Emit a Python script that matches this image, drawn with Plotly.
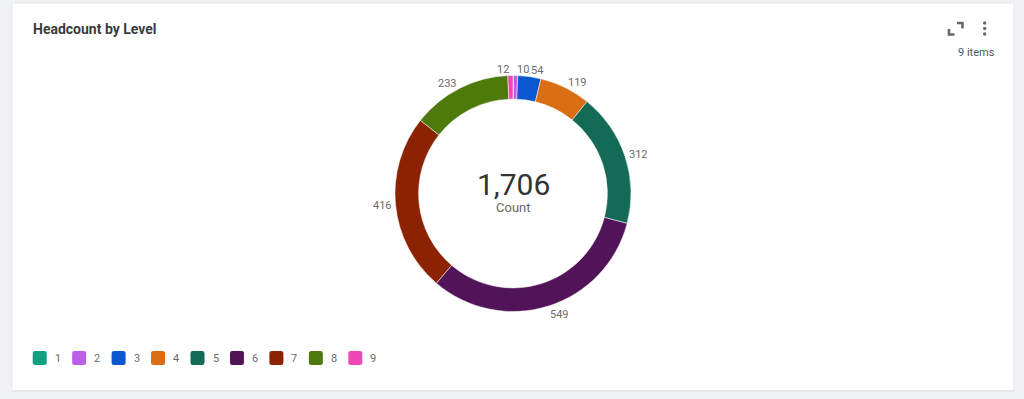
import math
import plotly.graph_objects as go

levels = ["1", "2", "3", "4", "5", "6", "7", "8", "9"]
counts = [1, 10, 54, 119, 312, 549, 416, 233, 12]
colors = ["#12a082", "#bb5fe9", "#0b57d0", "#d96e15", "#136a55",
          "#521458", "#8b2202", "#4e7a0c", "#ee48b5"]
title = "Headcount by Level"
center_label = "Count"

W, H = 1024, 399
total = sum(counts)

# donut geometry (pixels)
CX, CY, R = 513, 193.5, 118

def px(x):
    return x / W

def py(y):
    return 1 - y / H

def P(x, y):
    return "{:.5f},{:.5f}".format(px(x), py(y))

fig = go.Figure()
fig.add_trace(go.Pie(
    labels=levels, values=counts, sort=False, direction="clockwise", rotation=0,
    hole=0.8, marker=dict(colors=colors, line=dict(color="white", width=0.5)),
    textinfo="none", showlegend=False, hoverinfo="label+value",
    domain=dict(x=[px(CX - R), px(CX + R)], y=[py(CY + R), py(CY - R)]),
))

shapes = []
annotations = []

# card
shapes.append(dict(type="rect", xref="paper", yref="paper", x0=px(12), x1=px(1014),
                   y0=py(391.5), y1=py(3), fillcolor="#dcdde0",
                   line=dict(width=0), layer="below"))
shapes.append(dict(type="rect", xref="paper", yref="paper", x0=px(12), x1=px(1014),
                   y0=py(390.5), y1=py(3), fillcolor="white",
                   line=dict(color="#e6e7e9", width=1), layer="below"))

annotations.append(dict(text="<b>" + title + "</b>", x=px(30.5), y=py(29), xref="paper", yref="paper",
                        xanchor="left", yanchor="middle", showarrow=False,
                        font=dict(size=14, color="#3c3c3c", family="Roboto")))
annotations.append(dict(text="{:,}".format(total), x=px(513), y=py(185), xref="paper", yref="paper",
                        xanchor="center", yanchor="middle", showarrow=False,
                        font=dict(size=30, color="#333333", family="Roboto")))
annotations.append(dict(text=center_label, x=px(513), y=py(207.5), xref="paper", yref="paper",
                        xanchor="center", yanchor="middle", showarrow=False,
                        font=dict(size=13, color="#666666", family="Roboto")))
annotations.append(dict(text="{} items".format(len(levels)), x=px(976.5), y=py(52), xref="paper", yref="paper",
                        xanchor="center", yanchor="middle", showarrow=False,
                        font=dict(size=11, color="#555555", family="Roboto")))

# slice value labels, placed from the data (mid-angle of each slice)
cum = 0
for v in counts:
    mid = (cum + v / 2) / total * 2 * math.pi
    cum += v
    if v < 5:
        continue
    s, c = math.sin(mid), math.cos(mid)
    r = R + 3
    x = CX + s * r
    y = CY - c * r - c * (3 if c > 0 else 6)
    annotations.append(dict(text=str(v), x=px(x), y=py(y), xref="paper", yref="paper",
                            xanchor="left" if s >= 0 else "right", yanchor="middle",
                            showarrow=False, borderpad=0,
                            font=dict(size=11, color="#6b6b6b", family="Roboto")))

# expand icon
shapes.append(dict(type="path", xref="paper", yref="paper",
                   path="M" + P(949, 29) + " L" + P(949, 34.5) + " L" + P(954.5, 34.5),
                   line=dict(color="#666666", width=2.5)))
shapes.append(dict(type="path", xref="paper", yref="paper",
                   path="M" + P(957, 23) + " L" + P(962.5, 23) + " L" + P(962.5, 28.5),
                   line=dict(color="#666666", width=2.5)))
# kebab
for cy in [23, 28.5, 34]:
    shapes.append(dict(type="circle", xref="paper", yref="paper",
                       x0=px(983), x1=px(986.4), y0=py(cy + 1.7), y1=py(cy - 1.7),
                       fillcolor="#666666", line=dict(width=0)))

# custom legend
def rounded_rect(x0, y0, s, r):
    x1, y1 = x0 + s, y0 + s
    return ("M" + P(x0 + r, y0) + " L" + P(x1 - r, y0) + " Q" + P(x1, y0) + " " + P(x1, y0 + r) +
            " L" + P(x1, y1 - r) + " Q" + P(x1, y1) + " " + P(x1 - r, y1) +
            " L" + P(x0 + r, y1) + " Q" + P(x0, y1) + " " + P(x0, y1 - r) +
            " L" + P(x0, y0 + r) + " Q" + P(x0, y0) + " " + P(x0 + r, y0) + " Z")

for i, (lab, col) in enumerate(zip(levels, colors)):
    x0 = 32.7 + i * 39.45
    shapes.append(dict(type="path", xref="paper", yref="paper",
                       path=rounded_rect(x0, 351, 14, 2.5), fillcolor=col,
                       line=dict(width=0)))
    annotations.append(dict(text=lab, x=px(x0 + 20), y=py(358), xref="paper", yref="paper",
                            xanchor="left", yanchor="middle", showarrow=False,
                            font=dict(size=11, color="#6b6b6b", family="Roboto")))

fig.update_layout(
    width=W, height=H, margin=dict(l=0, r=0, t=0, b=0),
    paper_bgcolor="#f0f1f2", plot_bgcolor="#f0f1f2",
    shapes=shapes, annotations=annotations,
    font=dict(family="Roboto"),
)

fig.write_html("out.html", config={"displayModeBar": False},
               post_script="document.body.style.margin='0';document.body.style.background='#f0f1f2';")
